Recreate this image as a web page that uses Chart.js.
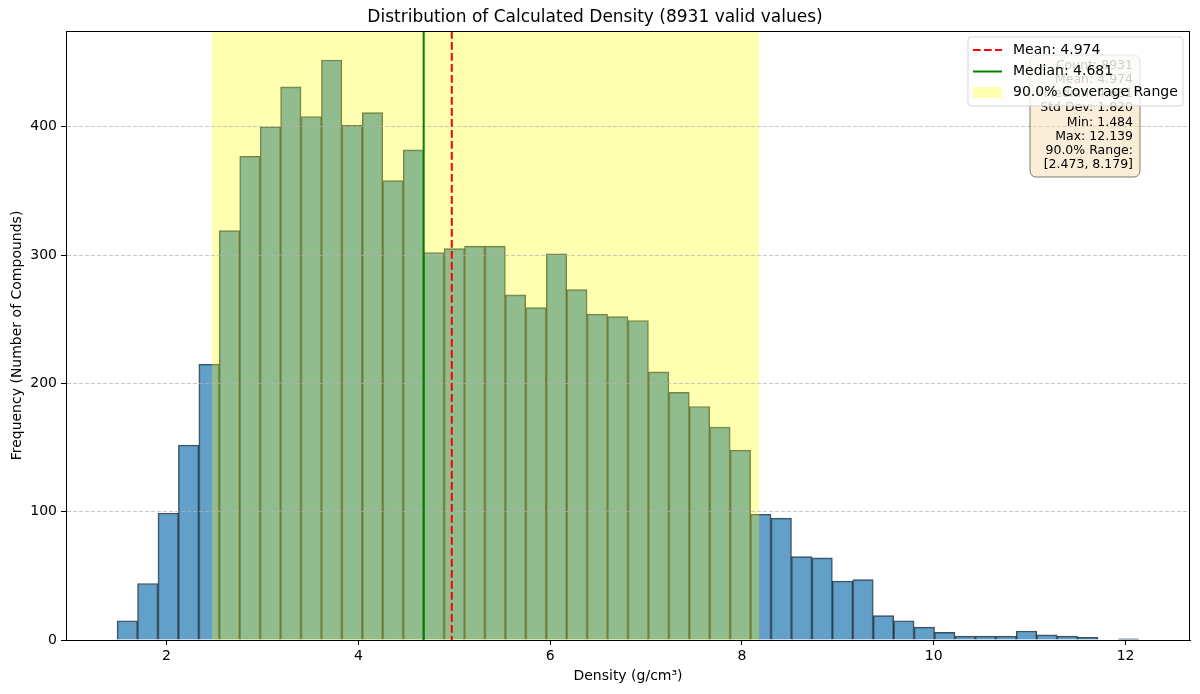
<!DOCTYPE html>
<html>
<head>
<meta charset="utf-8">
<title>Calculated Density Distribution</title>
<script src="https://cdn.jsdelivr.net/npm/chart.js@4.4.0/dist/chart.umd.min.js"></script>
<style>
  html, body { margin: 0; padding: 0; background: #fff; }
  #wrap { width: 1200px; height: 694px; }
</style>
</head>
<body>
<div id="wrap"><canvas id="graph" width="1200" height="694"></canvas></div>
<script>
// histogram: 50 equal bins between min and max density
const binLow = 1.484
const binHigh = 12.139
const counts = [15, 44, 99, 152, 215, 319, 377, 400, 431, 408,
    452, 401, 411, 358, 382, 302, 305, 307, 307, 269,
    259, 301, 273, 254, 252, 249, 209, 193, 182, 166,
    148, 98, 95, 65, 64, 46, 47, 19, 15, 10,
    6, 3, 3, 3, 7, 4, 3, 2, 0, 1]
const meanValue = 4.974
const medianValue = 4.681
const coverageRange = [2.473, 8.179]
const xTicks = [2, 4, 6, 8, 10, 12]
const yTicks = [0, 100, 200, 300, 400]
const legendLabels = ["Mean: 4.974", "Median: 4.681", "90.0% Coverage Range"]
const statsLines = ["Count: 8931", "Mean: 4.974", "Median: 4.681", "Std Dev: 1.820",
    "Min: 1.484", "Max: 12.139", "90.0% Range:", "[2.473, 8.179]"]

Chart.defaults.font.family = '"DejaVu Sans", sans-serif'
Chart.defaults.color = '#000'

var binWidth = (binHigh - binLow) / counts.length
var histData = counts.map((c, i) => ({ x: binLow + (i + 0.5) * binWidth, y: c }))
var pad = (binHigh - binLow) * 0.05 // matplotlib default margins

function roundBox(ctx, x, y, w, h, r) {
    ctx.beginPath()
    if (ctx.roundRect) ctx.roundRect(x, y, w, h, r)
    else ctx.rect(x, y, w, h)
}

// span, mean/median lines, frame, stats box and legend
const overlays = {
    id: 'overlays',
    afterDatasetsDraw(chart) {
        var ctx = chart.ctx, area = chart.chartArea, xs = chart.scales.x
        var x0 = xs.getPixelForValue(coverageRange[0])
        var x1 = xs.getPixelForValue(coverageRange[1])
        ctx.save()
        ctx.fillStyle = 'rgba(255,255,0,0.3)'
        ctx.fillRect(x0, area.top, x1 - x0, area.bottom - area.top)
        ctx.restore()
    },
    afterDraw(chart) {
        var ctx = chart.ctx, area = chart.chartArea, xs = chart.scales.x
        ctx.save()

        // median and mean
        var xm = xs.getPixelForValue(medianValue)
        ctx.strokeStyle = '#008000'
        ctx.lineWidth = 2
        ctx.beginPath(); ctx.moveTo(xm, area.top); ctx.lineTo(xm, area.bottom); ctx.stroke()
        var xa = xs.getPixelForValue(meanValue)
        ctx.strokeStyle = '#ff0000'
        ctx.setLineDash([7.7, 3.3])
        ctx.beginPath(); ctx.moveTo(xa, area.top); ctx.lineTo(xa, area.bottom); ctx.stroke()
        ctx.setLineDash([])

        // axes frame
        ctx.strokeStyle = '#000'
        ctx.lineWidth = 1
        ctx.strokeRect(area.left + 0.5, area.top + 0.5, area.right - area.left - 1, area.bottom - area.top)

        // stats text box
        var bx = area.right - 160, by = area.top + 24
        roundBox(ctx, bx, by, 110, 122, 6)
        ctx.fillStyle = 'rgba(245,222,179,0.5)'
        ctx.fill()
        ctx.strokeStyle = 'rgba(0,0,0,0.5)'
        ctx.stroke()
        ctx.fillStyle = '#000'
        ctx.font = '12.5px "DejaVu Sans"'
        ctx.textAlign = 'right'
        ctx.textBaseline = 'middle'
        statsLines.forEach((s, i) => ctx.fillText(s, bx + 103, by + 10.5 + i * 14.2))

        // legend
        var lx = area.right - 222, ly = area.top + 6
        roundBox(ctx, lx, ly, 215, 69, 3)
        ctx.fillStyle = 'rgba(255,255,255,0.8)'
        ctx.fill()
        ctx.strokeStyle = 'rgba(204,204,204,0.8)'
        ctx.stroke()
        var hx = lx + 5, rowY = [ly + 13, ly + 34.5, ly + 55.5]
        ctx.lineWidth = 2
        ctx.strokeStyle = '#ff0000'
        ctx.setLineDash([7.7, 3.3])
        ctx.beginPath(); ctx.moveTo(hx, rowY[0]); ctx.lineTo(hx + 29, rowY[0]); ctx.stroke()
        ctx.setLineDash([])
        ctx.strokeStyle = '#008000'
        ctx.beginPath(); ctx.moveTo(hx, rowY[1]); ctx.lineTo(hx + 29, rowY[1]); ctx.stroke()
        ctx.fillStyle = 'rgba(255,255,0,0.3)'
        ctx.fillRect(hx, rowY[2] - 5.5, 29, 11)
        ctx.fillStyle = '#000'
        ctx.font = '14px "DejaVu Sans"'
        ctx.textAlign = 'left'
        legendLabels.forEach((s, i) => ctx.fillText(s, lx + 45, rowY[i]))

        ctx.restore()
    }
}

var chart = new Chart("graph", {
    type: "bar",
    data: {
        datasets: [{
            label: 'Density',
            data: histData,
            backgroundColor: 'rgba(31,119,180,0.7)',
            borderColor: 'rgba(0,0,0,0.7)',
            borderWidth: 1,
            barPercentage: 1,
            categoryPercentage: 1
        }]
    },
    options: {
        responsive: false,
        animation: false,
        devicePixelRatio: 1,
        layout: { padding: { left: 0, right: 10, top: 0, bottom: 0 } },
        plugins: {
            legend: { display: false },
            tooltip: { enabled: false },
            title: {
                display: true,
                text: 'Distribution of Calculated Density (8931 valid values)',
                color: '#000',
                font: { size: 17, weight: 'normal' },
                padding: { top: 7, bottom: 3.6 }
            }
        },
        scales: {
            x: {
                type: 'linear',
                min: binLow - pad,
                max: binHigh + pad,
                offset: false,
                grid: { drawOnChartArea: false, offset: false, tickLength: 5, tickColor: '#000' },
                border: { color: '#000', width: 1, z: 1 },
                ticks: { color: '#000', font: { size: 14 }, padding: 3, maxRotation: 0 },
                title: { display: true, text: 'Density (g/cm³)', color: '#000', font: { size: 14 }, padding: { top: 0, bottom: 9.6 } },
                afterBuildTicks: s => { s.ticks = xTicks.map(v => ({ value: v })) },
                afterFit: s => { s.height = 54 }
            },
            y: {
                min: 0,
                max: 474.6,
                grid: { color: 'rgba(176,176,176,0.7)', lineWidth: 1, tickLength: 5, tickColor: '#000', z: 1 },
                border: { color: '#000', width: 1, dash: [4, 2], z: 1 },
                ticks: { color: '#000', font: { size: 14 }, padding: 4 },
                title: { display: true, text: 'Frequency (Number of Compounds)', color: '#000', font: { size: 14 }, padding: { top: 8.6, bottom: 0 } },
                afterBuildTicks: s => { s.ticks = yTicks.map(v => ({ value: v })) },
                afterFit: s => { s.width = 66 }
            }
        }
    },
    plugins: [overlays]
})
</script>
</body>
</html>
